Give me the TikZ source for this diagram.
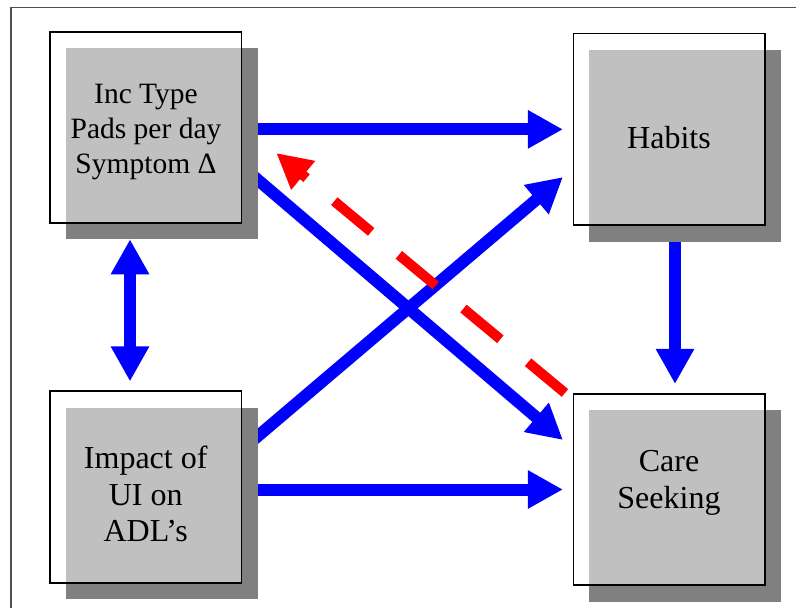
\documentclass[tikz,border=0pt]{standalone}
\usepackage{fontspec}
\setmainfont{Liberation Serif}
\newfontfamily\timesfont{Liberation Serif}
\usetikzlibrary{arrows.meta,calc}
\pgfdeclarelayer{bg}
\pgfsetlayers{bg,main}
\definecolor{shadowgray}{RGB}{128,128,128}
\definecolor{boxgray}{RGB}{192,192,192}
\definecolor{framegray}{RGB}{80,80,80}
\begin{document}
\begin{tikzpicture}[x=1pt,y=-1pt,
  shadowbox/.style={fill=shadowgray, draw=none, inner sep=0pt, outer sep=0pt,
    minimum width=192pt, minimum height=191.5pt},
  outlinebox/.style={draw=black, line width=1.6pt, inner sep=0pt,
    minimum width=191.5pt, minimum height=191.5pt},
  boxtext/.style={align=center, inner sep=0pt, text=black,
    font=\timesfont\fontsize{32}{36.8}\selectfont},
  flow/.style={draw=blue, line width=12pt, -{Triangle[length=35pt,width=36pt]}},
  backflow/.style={draw=red, line width=10pt, dash pattern=on 48pt off 36pt,
    -{Triangle[length=35pt,width=35pt]}}
]
\useasboundingbox (0,0) rectangle (796,608);

% outer frame (clipped at right and bottom)
\draw[framegray, line width=1.5pt] (796,7.3) -- (11,7.3) -- (11,608);

% boxes: shadow, light face, outline
\node[shadowbox] (incS) at (162,143.5) {};
\node[shadowbox] (habS) at (685,145.85) {};
\node[shadowbox] (impS) at (162,503.35) {};
\node[shadowbox] (careS) at (685,505.85) {};

\coordinate (incC) at (145.75,127.5);
\coordinate (habC) at (669.2,129.35);
\coordinate (impC) at (145.75,487);
\coordinate (careC) at (669.2,489.5);

\fill[boxgray] (incS.north west) rectangle ($(incC)+(95.75,95.75)$);
\fill[boxgray] (habS.north west) rectangle ($(habC)+(95.75,95.75)$);
\fill[boxgray] (impS.north west) rectangle ($(impC)+(95.75,95.75)$);
\fill[boxgray] (careS.north west) rectangle ($(careC)+(95.75,95.75)$);

\node[outlinebox] (inc) at (incC) {};
\node[outlinebox] (hab) at (habC) {};
\node[outlinebox] (imp) at (impC) {};
\node[outlinebox] (care) at (careC) {};

% texts
\node[boxtext, font=\timesfont\fontsize{29.5}{34.6}\selectfont] (inct) at (146,132) {Inc Type\\Pads per day\\Symptom Δ};
\node[boxtext] (habt) at (669,137.4) {Habits};
\node[boxtext] (impt) at (145.7,494) {Impact of\\UI on\\ADL’s};
\node[boxtext] (caret) at (669,482.5) {Care\\Seeking};

% connectors (behind the boxes)
\begin{pgfonlayer}{bg}
\draw[flow] (incS.east |- hab.west) -- ([xshift=-9.7pt]hab.west);
\draw[flow] ([xshift=-10pt,yshift=-28pt]incS.east) -- ([xshift=-9.7pt,yshift=49.5pt]care.west);
\draw[flow] ([xshift=-10pt,yshift=58.85pt]impS.east) -- ([xshift=-9.7pt,yshift=-47.7pt]hab.west);
\draw[flow] (impS.east |- care.west) -- ([xshift=-9.7pt]care.west);
\draw[flow] ([xshift=-10pt,yshift=10pt]habS.south) -- ([xshift=5.8pt,yshift=9pt]care.north);
\draw[flow, {Triangle[length=35pt,width=36pt]}-{Triangle[length=35pt,width=36pt]}]
  ([xshift=-32pt]incS.south) -- ([xshift=-15.75pt,yshift=9pt]imp.north);
\draw[backflow] ([xshift=-7.7pt]care.north west) -- ([xshift=34pt,yshift=-25.5pt]inc.east);
\end{pgfonlayer}
\end{tikzpicture}
\end{document}
